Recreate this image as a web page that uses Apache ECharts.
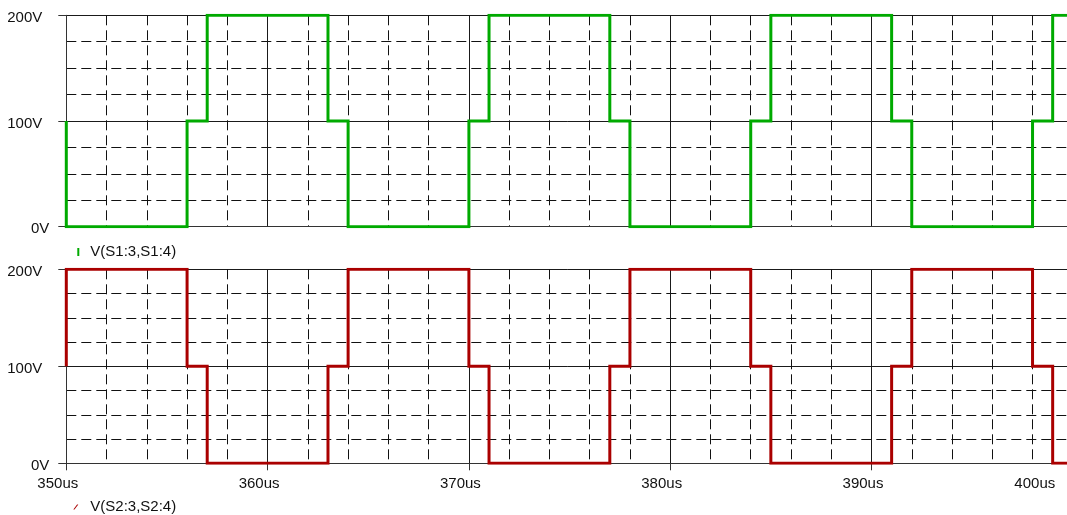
<!DOCTYPE html>
<html>
<head>
<meta charset="utf-8">
<script src="https://cdn.jsdelivr.net/npm/echarts@6/dist/echarts.min.js"></script>
<style>html,body{margin:0;padding:0;background:#fff;}#c{width:1067px;height:515px;}</style>
</head>
<body>
<div id="c"></div>
<script>
// ---- data ----
const xTickLabels = ['350us','360us','370us','380us','390us','400us'];
const yTickLabels = ['0V','100V','200V'];
const seriesNames = ['V(S1:3,S1:4)', 'V(S2:3,S2:4)'];
// transition times in microseconds; each level holds from its time to the next time
const timesUs  = [350, 350, 356, 357, 363, 364, 370, 371, 377, 378, 384, 385, 391, 392, 398, 399, 400];
const s1Levels = [100,   0, 100, 200, 100,   0, 100, 200, 100,   0, 100, 200, 100,   0, 100, 200, 200];
const s2Levels = [100, 200, 100,   0, 100, 200, 100,   0, 100, 200, 100,   0, 100, 200, 100,   0,   0];

const FONT = 'Liberation Sans, Arial, sans-serif';
const s1Data = timesUs.map((t, i) => [t, s1Levels[i]]);
const s2Data = timesUs.map((t, i) => [t, s2Levels[i]]);

function xLabel(v) {
  const i = Math.round((v - 350) / 10);
  const txt = xTickLabels[i] || '';
  return v >= 400 ? '{m|' + txt + '}' : '{a|' + txt + '}';
}
function yLabel(v) {
  const txt = yTickLabels[Math.round(v / 100)] || '';
  return v === 0 ? '{z|' + txt + '}' : '{a|' + txt + '}';
}

const majorLine = { show: true, lineStyle: { color: '#1a1a1a', width: 1, type: 'solid' } };
const minorLine = { show: true, lineStyle: { color: '#111', width: 1, type: [10, 5] } };

function xAxis(gi, showLabels) {
  return {
    type: 'value', gridIndex: gi, min: 350, max: 400, interval: 10,
    axisLine: { show: true, onZero: false, lineStyle: { color: '#333', width: 1 } },
    axisTick: { show: showLabels, length: 7, lineStyle: { color: '#333' } },
    minorTick: { show: false, splitNumber: 5 },
    splitLine: majorLine,
    minorSplitLine: minorLine,
    axisLabel: showLabels ? {
      show: true, margin: 13, fontFamily: FONT, fontSize: 15, color: '#111',
      showMaxLabel: true, showMinLabel: true, hideOverlap: false,
      formatter: xLabel,
      rich: {
        a: { fontFamily: FONT, fontSize: 15, color: '#111', padding: [0, 17, 0, 0] },
        m: { fontFamily: FONT, fontSize: 15, color: '#111', padding: [0, 76, 0, 0] }
      }
    } : { show: false }
  };
}
function yAxis(gi) {
  return {
    type: 'value', gridIndex: gi, min: 0, max: 200, interval: 100,
    axisLine: { show: true, lineStyle: { color: '#333', width: 1 } },
    axisTick: { show: true, length: 8, lineStyle: { color: '#333' } },
    minorTick: { show: false, splitNumber: 4 },
    splitLine: majorLine,
    minorSplitLine: minorLine,
    axisLabel: {
      show: true, margin: 17, fontFamily: FONT, fontSize: 15, color: '#111',
      formatter: yLabel,
      rich: {
        a: { fontFamily: FONT, fontSize: 15, color: '#111', padding: [5, 7, 0, 0] },
        z: { fontFamily: FONT, fontSize: 15, color: '#111', padding: [5, 0, 0, 0] }
      }
    }
  };
}

const chart = echarts.init(document.getElementById('c'), null, { renderer: 'canvas' });
chart.setOption({
  animation: false,
  backgroundColor: '#fff',
  grid: [
    { left: 66.3, width: 1006.5, top: 15.3, height: 211.4, containLabel: false, outerBoundsMode: 'none' },
    { left: 66.3, width: 1006.5, top: 269.3, height: 194, containLabel: false, outerBoundsMode: 'none' }
  ],
  xAxis: [xAxis(0, false), xAxis(1, true)],
  yAxis: [yAxis(0), yAxis(1)],
  legend: [
    {
      data: [seriesNames[0]], left: 77.3, top: 244, padding: 0, itemWidth: 2, itemHeight: 8,
      icon: 'rect', selectedMode: false,
      textStyle: { fontFamily: FONT, fontSize: 15, color: '#111', padding: [0, 0, 0, 6], lineHeight: 16 }
    },
    {
      data: [seriesNames[1]], left: 73.3, top: 499, padding: 0, itemWidth: 5, itemHeight: 5,
      icon: 'path://M0,5L1.2,5L5,0.2L3.8,0.2Z', selectedMode: false,
      textStyle: { fontFamily: FONT, fontSize: 15, color: '#111', padding: [0, 0, 0, 7], lineHeight: 16 }
    }
  ],
  series: [
    {
      name: seriesNames[0], type: 'line', xAxisIndex: 0, yAxisIndex: 0, step: 'end',
      data: s1Data, showSymbol: false, symbol: 'none', color: '#00aa00',
      lineStyle: { color: '#00aa00', width: 3, join: 'miter' }
    },
    {
      name: seriesNames[1], type: 'line', xAxisIndex: 1, yAxisIndex: 1, step: 'end',
      data: s2Data, showSymbol: false, symbol: 'none', color: '#aa0000',
      lineStyle: { color: '#aa0000', width: 3, join: 'miter' }
    }
  ]
});
</script>
</body>
</html>
